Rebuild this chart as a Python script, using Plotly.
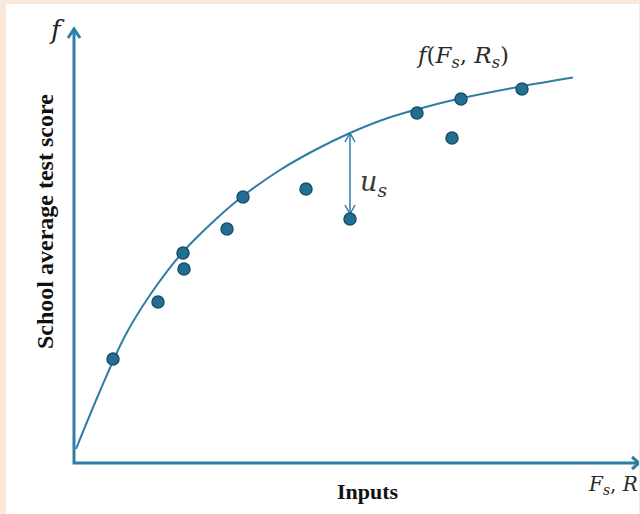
import plotly.graph_objects as go

# Observed school data points (inputs, average test score) in chart units
point_x = [39, 84, 109, 110, 153, 169, 232, 276, 343, 378, 387, 448]
point_y = [104, 161, 210, 194, 234, 266, 274, 244, 350, 325, 364, 374]

# Production function f(F_s, R_s)
curve_x = [2, 26, 51, 76, 108, 141, 169, 206, 241, 276, 311, 346, 387, 441, 499]
curve_y = [14, 72, 127, 168, 210, 243, 267, 293, 313, 330, 344, 354.5, 364.7, 375.5, 385.4]

# Residual u_s marked for one school
resid_x = 276
resid_top = 330
resid_bottom = 249

# Axis extents
x_axis_end = 565
y_axis_end = 434

AXIS = "#2E7DA3"
PT_FILL = "#236F91"
PT_LINE = "#16506C"
SERIF = "Liberation Serif, Times New Roman, serif"
MATH = "DejaVu Serif, serif"

fig = go.Figure()

def chevron(tx, ty, dx1, dy1, dx2, dy2, width):
    fig.add_trace(go.Scatter(x=[tx + dx1, tx, tx + dx2], y=[ty + dy1, ty, ty + dy2],
                             mode="lines", line=dict(color=AXIS, width=width),
                             hoverinfo="skip", showlegend=False))

# axes
fig.add_trace(go.Scatter(x=[0, 0, x_axis_end], y=[y_axis_end, 0, 0], mode="lines",
                         line=dict(color=AXIS, width=3), hoverinfo="skip", showlegend=False))
chevron(0, y_axis_end, -6, -9, 6, -9, 3)
chevron(x_axis_end, 0, -7, 6, -7, -6, 3)

# curve
fig.add_trace(go.Scatter(x=curve_x, y=curve_y, mode="lines",
                         line=dict(color=AXIS, width=2, shape="spline", smoothing=1.0),
                         hoverinfo="skip", showlegend=False))

# residual arrow
fig.add_trace(go.Scatter(x=[resid_x, resid_x], y=[resid_top, resid_bottom], mode="lines",
                         line=dict(color=AXIS, width=1.5), hoverinfo="skip", showlegend=False))
chevron(resid_x, resid_top, -5, -9, 5, -9, 1.5)
chevron(resid_x, resid_bottom, -5, 9, 5, 9, 1.5)

# points
fig.add_trace(go.Scatter(x=point_x, y=point_y, mode="markers",
                         marker=dict(size=12, color=PT_FILL, line=dict(color=PT_LINE, width=1.5)),
                         showlegend=False))

annots = [
    dict(x=-17, y=433, text="<i>f</i>", font=dict(family=MATH, size=26, color="#222")),
    dict(x=388, y=406, text="<i>f</i>(<i>F<sub>s</sub></i>, <i>R<sub>s</sub></i>)",
         font=dict(family=MATH, size=23, color="#2a2a2a")),
    dict(x=299, y=280, text="<i>u<sub>s</sub></i>", font=dict(family=MATH, size=27, color="#3a3a3a")),
    dict(x=539, y=-22, text="<i>F<sub>s</sub></i>, <i>R</i>", font=dict(family=MATH, size=20, color="#2a2a2a")),
    dict(x=294, y=-28, text="<b>Inputs</b>", font=dict(family=SERIF, size=22, color="#111")),
    dict(x=-29, y=241, text="<b>School average test score</b>", textangle=-90,
         font=dict(family=SERIF, size=24, color="#111")),
]
for a in annots:
    a.update(xref="x", yref="y", showarrow=False)
    fig.add_annotation(**a)

fig.update_layout(
    width=640, height=514,
    margin=dict(l=6, r=1, t=4, b=0),
    paper_bgcolor="#FBE8D8",
    plot_bgcolor="#FFFFFF",
    xaxis=dict(range=[-68, 565], visible=False, fixedrange=True),
    yaxis=dict(range=[-51, 459], visible=False, fixedrange=True),
)

fig.write_html("out.html", config={"displayModeBar": False},
               post_script="document.body.style.margin='0';document.body.style.overflow='hidden';")
